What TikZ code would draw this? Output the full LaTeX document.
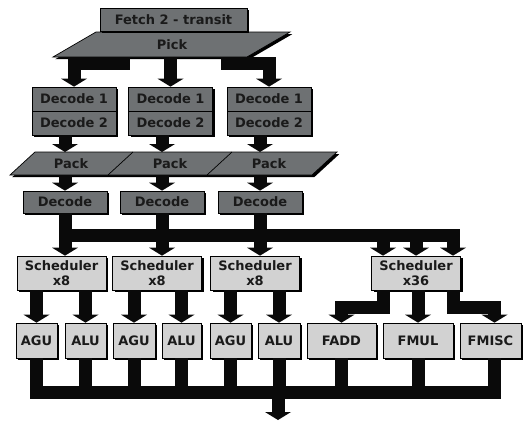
\documentclass[tikz,border=0pt]{standalone}
\usepackage{fontspec}
\setmainfont{DejaVu Sans}
\usetikzlibrary{arrows.meta,shadows}
\definecolor{dk}{HTML}{6E7173}
\definecolor{lt}{HTML}{D2D2D2}
\definecolor{ink}{HTML}{0A0A0A}
\definecolor{txt}{HTML}{1A1A1A}
\begin{document}
\begin{tikzpicture}[x=1pt,y=-1pt,
  lbl/.style={font=\fontsize{13}{15}\selectfont\bfseries, text=txt},
  shd/.style={drop shadow={shadow xshift=2.2pt,shadow yshift=-2.2pt,fill=black,opacity=1}},
  dbox/.style={lbl, shd, draw=black, line width=0.7pt, fill=dk, inner sep=0pt, align=center},
  lbox/.style={lbl, shd, draw=black, line width=0.7pt, fill=lt, inner sep=0pt, align=center},
  wire/.style={draw=ink, line width=13pt, line join=miter},
  arr/.style={wire, -{Triangle[width=26pt,length=8pt,line width=0pt]}},
]
\useasboundingbox (0,0) rectangle (528,421);

% Pick and Fetch
\path[dbox] (53,57) -- (96,32) -- (290,32) -- (247,57) -- cycle;
\node[lbl] (pick) at (172,44.5) {Pick};
\node[dbox, minimum width=147pt, minimum height=23pt] (fetch) at (173.5,19.5) {Fetch 2 - transit};
\coordinate (pickbot) at (0,57);
\coordinate (pickL) at (123,57);
\coordinate (pickR) at (227,57);

% Decode 1 / Decode 2
\node[dbox, minimum width=84pt, minimum height=24pt] (d1a) at (74,99) {Decode 1};
\node[dbox, minimum width=84pt, minimum height=24pt] (d2a) at (74,123) {Decode 2};
\node[dbox, minimum width=84pt, minimum height=24pt] (d1b) at (170.5,99) {Decode 1};
\node[dbox, minimum width=84pt, minimum height=24pt] (d2b) at (170.5,123) {Decode 2};
\node[dbox, minimum width=84pt, minimum height=24pt] (d1c) at (269,99) {Decode 1};
\node[dbox, minimum width=84pt, minimum height=24pt] (d2c) at (269,123) {Decode 2};

% Pack
\path[dbox] (10,175) -- (35,152) -- (337,152) -- (312,175) -- cycle;
\draw[black, line width=0.7pt] (108,175) -- (133,152);
\draw[black, line width=0.7pt] (207,175) -- (232,152);
\node[lbl] (pka) at (71,164) {Pack};
\node[lbl] (pkb) at (170,164) {Pack};
\node[lbl] (pkc) at (269,164) {Pack};
\coordinate (packtop) at (0,152);
\coordinate (packbot) at (0,175);

% Decode
\node[dbox, minimum width=84pt, minimum height=22pt] (deca) at (65,202) {Decode};
\node[dbox, minimum width=84pt, minimum height=22pt] (decb) at (162,202) {Decode};
\node[dbox, minimum width=84pt, minimum height=22pt] (decc) at (260,202) {Decode};
\coordinate (busY) at (0,235);

% Schedulers
\node[lbox, minimum width=89pt, minimum height=34pt] (sch1) at (61.5,273) {Scheduler\\x8};
\node[lbox, minimum width=89pt, minimum height=34pt] (sch2) at (157,273) {Scheduler\\x8};
\node[lbox, minimum width=89pt, minimum height=34pt] (sch3) at (255,273) {Scheduler\\x8};
\node[lbox, minimum width=89pt, minimum height=34pt] (s4) at (416,273) {Scheduler\\x36};

% Units
\node[lbox, minimum width=41pt, minimum height=35pt] (agu1) at (36.5,340.5) {AGU};
\node[lbox, minimum width=41pt, minimum height=35pt] (alu1) at (85.5,340.5) {ALU};
\node[lbox, minimum width=42pt, minimum height=35pt] (agu2) at (134,340.5) {AGU};
\node[lbox, minimum width=39pt, minimum height=35pt] (alu2) at (181.5,340.5) {ALU};
\node[lbox, minimum width=41pt, minimum height=35pt] (agu3) at (230.5,340.5) {AGU};
\node[lbox, minimum width=42pt, minimum height=35pt] (alu3) at (279,340.5) {ALU};
\node[lbox, minimum width=69pt, minimum height=35pt] (fadd) at (341.5,340.5) {FADD};
\node[lbox, minimum width=70pt, minimum height=35pt] (fmul) at (418,340.5) {FMUL};
\node[lbox, minimum width=61pt, minimum height=35pt] (fmisc) at (490.5,340.5) {FMISC};
\coordinate (busB) at (0,392);
\coordinate (out) at (278,420);

% Pick -> Decode 1
\draw[arr] (pickL) -- ++(0,6) -| (d1a.north);
\draw[arr] (d1b.north |- pickbot) -- (d1b.north);
\draw[arr] (pickR) -- ++(0,6) -| (d1c.north);

% Decode 2 -> Pack -> Decode
\draw[arr] (deca.north |- d2a.south) -- (deca.north |- packtop);
\draw[arr] (decb.north |- d2b.south) -- (decb.north |- packtop);
\draw[arr] (decc.north |- d2c.south) -- (decc.north |- packtop);
\draw[arr] (deca.north |- packbot) -- (deca.north);
\draw[arr] (decb.north |- packbot) -- (decb.north);
\draw[arr] (decc.north |- packbot) -- (decc.north);

% Decode -> bus -> schedulers
\draw[arr] (deca.south) -- (deca.south |- sch1.north);
\draw[arr] (decb.south) -- (decb.south |- sch2.north);
\draw[arr] (decc.south) -- (decc.south |- sch3.north);
\draw[arr] (deca.south |- busY) -| ([xshift=37pt]s4.north);
\draw[arr] ([xshift=-33pt]s4.north |- busY) -- ([xshift=-33pt]s4.north);
\draw[arr] (s4.north |- busY) -- (s4.north);

% Schedulers -> units
\draw[arr] (agu1.north |- sch1.south) -- (agu1.north);
\draw[arr] (alu1.north |- sch1.south) -- (alu1.north);
\draw[arr] (agu2.north |- sch2.south) -- (agu2.north);
\draw[arr] (alu2.north |- sch2.south) -- (alu2.north);
\draw[arr] (agu3.north |- sch3.south) -- (agu3.north);
\draw[arr] (alu3.north |- sch3.south) -- (alu3.north);
\draw[arr] ([xshift=-33pt]s4.south) -- ++(0,17) -| (fadd.north);
\draw[arr] (fmul.north |- s4.south) -- (fmul.north);
\draw[arr] ([xshift=37pt]s4.south) -- ++(0,17) -| ([xshift=4pt]fmisc.north);

% Units -> result bus
\foreach \u in {agu1,alu1,agu2,alu2,agu3,alu3,fadd,fmul}
  \draw[wire] (\u.south) -- (\u.south |- busB);
\draw[wire] ([xshift=4pt]fmisc.south) -- ([xshift=4pt]fmisc.south |- busB);
\draw[wire, line cap=rect] (agu1.south |- busB) -- ([xshift=4pt]fmisc.south |- busB);
\draw[arr] (out |- busB) -- (out);
\end{tikzpicture}
\end{document}
